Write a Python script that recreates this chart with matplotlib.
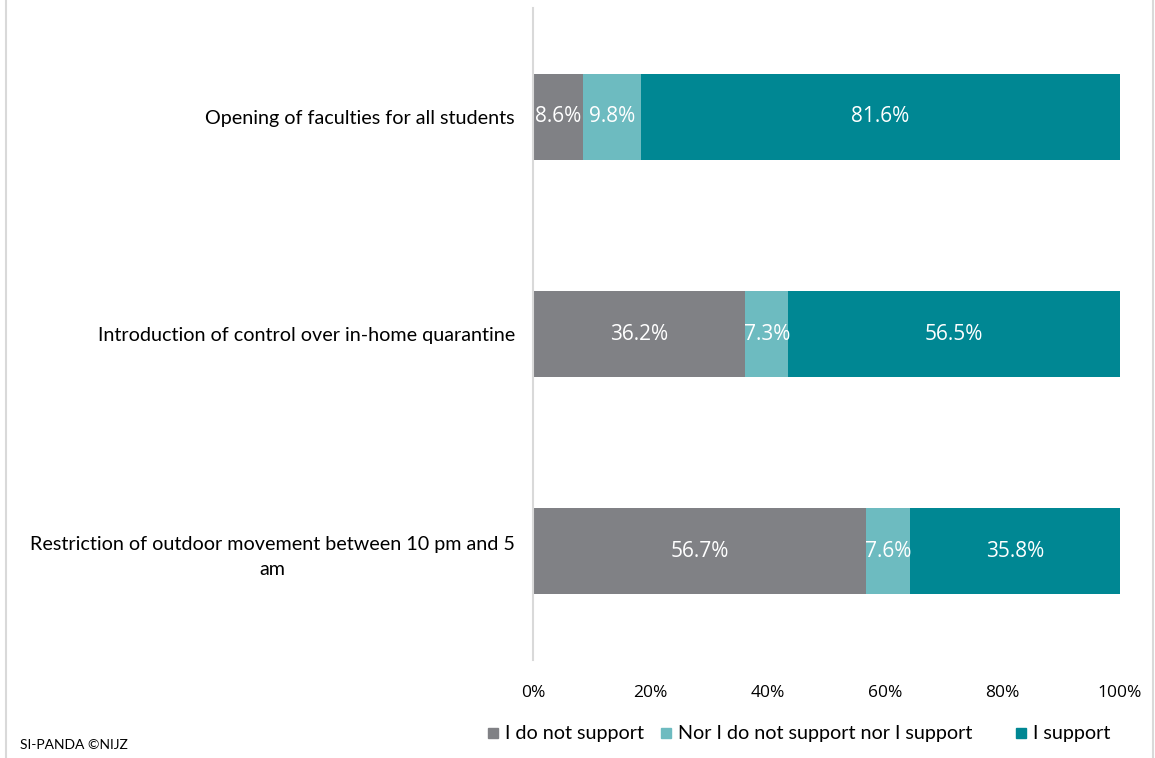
import matplotlib
matplotlib.use('Agg')
import matplotlib.pyplot as plt
from matplotlib.patches import Rectangle
import numpy as np

plt.rcParams['font.family'] = ['Lato', 'DejaVu Sans']

categories = ['Opening of faculties for all students',
              'Introduction of control over in-home quarantine',
              'Restriction of outdoor movement between 10 pm and 5\nam']
not_support = [8.6, 36.2, 56.7]
neutral = [9.8, 7.3, 7.6]
support = [81.6, 56.5, 35.8]
series_names = ['I do not support', 'Nor I do not support nor I support', 'I support']
colors = ['#808185', '#6DBBC0', '#008793']

W, H = 1155, 758
fig = plt.figure(figsize=(W/100, H/100), dpi=100)
ax = fig.add_axes([533/W, 1 - 660/H, (1120-533)/W, (660-8)/H])

y = np.arange(len(categories))
left = np.zeros(len(categories))
for vals, name, c in zip([not_support, neutral, support], series_names, colors):
    vals = np.array(vals)
    ax.barh(y, vals, left=left, height=0.395, color=c, label=name)
    for yi, l, v in zip(y, left, vals):
        ax.text(l + v/2, yi, '%.1f%%' % v, ha='center', va='center',
                color='white', fontsize=15, family=['Open Sans', 'DejaVu Sans'])
    left += vals

ax.set_xlim(0, 100)
ax.set_ylim(2.5, -0.5)
ax.set_xticks(np.arange(0, 101, 20))
ax.set_xticklabels(['%d%%' % t for t in range(0, 101, 20)],
                   family=['Open Sans', 'DejaVu Sans'], fontsize=12.5)
ax.set_yticks(y)
ax.set_yticklabels(categories, fontsize=14.2, linespacing=1.55, multialignment='center')
ax.tick_params(length=0)
ax.tick_params(axis='x', pad=18)
ax.tick_params(axis='y', pad=13)
for s in ['top', 'right', 'bottom']:
    ax.spines[s].set_visible(False)
ax.spines['left'].set_color('#d9d9d9')
ax.spines['left'].set_linewidth(1.5)

# legend row: square marker + label, placed along the bottom
legend_x = [488, 661, 1016]
for x0, name, c in zip(legend_x, series_names, colors):
    fig.add_artist(Rectangle((x0/W, 1 - 738/H), 10/W, 10/H, color=c,
                             transform=fig.transFigure))
    fig.text((x0 + 17)/W, 1 - 733/H, name, fontsize=14.2, va='center')

fig.text(20/W, 1 - 745/H, 'SI-PANDA ©NIJZ', fontsize=10, va='center')

# outer frame lines
fig.add_artist(plt.Line2D([6/W, 6/W], [0, 1], color='#d9d9d9', lw=1.5))
fig.add_artist(plt.Line2D([1153/W, 1153/W], [0, 1], color='#d9d9d9', lw=1.5))

fig.savefig('out.png', dpi=100)
